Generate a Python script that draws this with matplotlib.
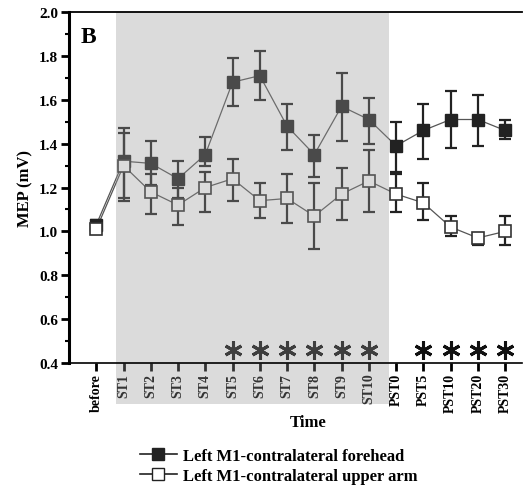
import matplotlib
matplotlib.use("Agg")
import matplotlib.pyplot as plt
from matplotlib.patches import Rectangle
from matplotlib.transforms import blended_transform_factory
from matplotlib.ticker import MultipleLocator

# time points
labels = ["before", "ST1", "ST2", "ST3", "ST4", "ST5", "ST6", "ST7", "ST8",
          "ST9", "ST10", "PST0", "PST5", "PST10", "PST20", "PST30"]

# Left M1 - contralateral forehead (mean, upper bar, lower bar)
forehead = [1.03, 1.32, 1.31, 1.24, 1.35, 1.68, 1.71, 1.48, 1.35,
            1.57, 1.51, 1.39, 1.46, 1.51, 1.51, 1.46]
forehead_hi = [1.05, 1.47, 1.41, 1.32, 1.43, 1.79, 1.82, 1.58, 1.44,
               1.72, 1.61, 1.50, 1.58, 1.64, 1.62, 1.51]
forehead_lo = [1.01, 1.14, 1.21, 1.15, 1.30, 1.57, 1.60, 1.37, 1.25,
               1.41, 1.40, 1.27, 1.33, 1.38, 1.39, 1.42]

# Left M1 - contralateral upper arm
upper_arm = [1.01, 1.30, 1.18, 1.12, 1.20, 1.24, 1.14, 1.15, 1.07,
             1.17, 1.23, 1.17, 1.13, 1.02, 0.97, 1.00]
upper_arm_hi = [1.03, 1.45, 1.26, 1.20, 1.27, 1.33, 1.22, 1.26, 1.22,
                1.29, 1.37, 1.26, 1.22, 1.07, 0.99, 1.07]
upper_arm_lo = [0.99, 1.15, 1.08, 1.03, 1.09, 1.14, 1.06, 1.04, 0.92,
                1.05, 1.09, 1.09, 1.05, 0.98, 0.94, 0.94]

# significance marks
sig_points = ["ST5", "ST6", "ST7", "ST8", "ST9", "ST10",
              "PST5", "PST10", "PST20", "PST30"]
sig_level = 0.46

# stimulation period (shaded)
stim_start = 0.72
stim_end = 10.74

plt.rcParams["font.family"] = ["Liberation Serif", "DejaVu Serif"]
plt.rcParams["font.weight"] = "bold"

fig = plt.figure(figsize=(5.24, 4.89), dpi=100)
ax = fig.add_axes([0.1317, 0.2556, 0.8645, 0.7178])

x = list(range(len(labels)))

def err(mean, hi, lo):
    return [[m - l for m, l in zip(mean, lo)], [h - m for m, h in zip(mean, hi)]]

ax.plot(x, forehead, color="#555555", lw=0.9, zorder=2)
ax.plot(x, upper_arm, color="#555555", lw=0.9, zorder=2)

ax.errorbar(x, forehead, yerr=err(forehead, forehead_hi, forehead_lo),
            fmt="none", ecolor="#222222", elinewidth=1.6, capsize=4.5,
            capthick=1.6, zorder=3)
ax.errorbar(x, upper_arm, yerr=err(upper_arm, upper_arm_hi, upper_arm_lo),
            fmt="none", ecolor="#222222", elinewidth=1.6, capsize=4.5,
            capthick=1.6, zorder=3)

ax.plot(x, forehead, ls="none", marker="s", ms=8, mfc="#222222",
        mec="#222222", zorder=4)
ax.plot(x, upper_arm, ls="none", marker="s", ms=8, mfc="white",
        mec="#333333", mew=1.2, zorder=5)

# asterisks for significant time points
sig_x = [labels.index(s) for s in sig_points]
ax.plot(sig_x, [sig_level] * len(sig_x), ls="none", marker=(6, 2, 0),
        ms=13, mew=2.2, color="#111111", zorder=4)

# shaded stimulation block, drawn over the data and tick labels
trans = blended_transform_factory(ax.transData, ax.transAxes)
rect = Rectangle((stim_start, -0.117), stim_end - stim_start, 1.117,
                 transform=trans, facecolor="#989898", alpha=0.34,
                 edgecolor="none", clip_on=False, zorder=6)
ax.add_patch(rect)

ax.set_xlim(-1, 15.62)
ax.set_ylim(0.4, 2.0)
ax.set_xticks(x)
ax.set_xticklabels(labels, rotation=90, fontsize=10, fontweight="bold")
ax.yaxis.set_major_locator(MultipleLocator(0.2))
ax.yaxis.set_minor_locator(MultipleLocator(0.1))
ax.yaxis.set_major_formatter(plt.FormatStrFormatter("%.1f"))
for t in ax.get_yticklabels():
    t.set_fontsize(11)
    t.set_fontweight("bold")

ax.tick_params(axis="y", which="major", length=6, width=2, pad=2)
ax.tick_params(axis="y", which="minor", length=3, width=1.5)
ax.tick_params(axis="x", which="major", length=6, width=2, pad=1)

ax.spines["right"].set_visible(False)
ax.spines["left"].set_linewidth(2.2)
ax.spines["bottom"].set_linewidth(1.2)
ax.spines["top"].set_linewidth(1.3)
for s in ax.spines.values():
    s.set_zorder(7)

ax.set_ylabel("MEP (mV)", fontsize=12, fontweight="bold", labelpad=4)
ax.set_xlabel("Time", fontsize=12, fontweight="bold")
ax.xaxis.set_label_coords(0.528, -0.145)

ax.text(0.025, 0.96, "B", transform=ax.transAxes, fontsize=17,
        fontweight="bold", va="top", ha="left", zorder=8)

h1, = ax.plot([], [], color="#222222", lw=1.2, marker="s", ms=8,
              mfc="#222222", mec="#222222")
h2, = ax.plot([], [], color="#222222", lw=1.2, marker="s", ms=8,
              mfc="white", mec="#222222")
fig.legend([h1, h2],
           ["Left M1-contralateral forehead", "Left M1-contralateral upper arm"],
           loc="center", bbox_to_anchor=(0.532, 0.045), frameon=False,
           prop={"size": 12, "weight": "bold"}, handlelength=2.2,
           handletextpad=0.4, labelspacing=0.25, borderpad=0)

fig.savefig("out.png", dpi=100)
